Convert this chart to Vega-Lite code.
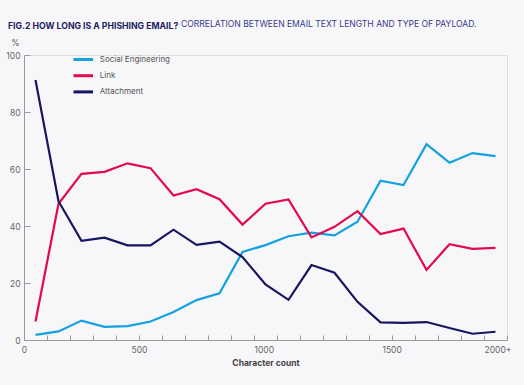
{
  "$schema": "https://vega.github.io/schema/vega-lite/v6.json",
  "width": 483,
  "height": 285,
  "autosize": {"type": "none"},
  "padding": {"left": 24, "top": 55, "right": 17, "bottom": 45},
  "background": "#f7f7f9",
  "title": {
    "text": "FIG.2 HOW LONG IS A PHISHING EMAIL?",
    "subtitle": "\u200b\u00a0\u00a0\u00a0\u00a0\u00a0\u00a0\u00a0\u00a0\u00a0\u00a0\u00a0\u00a0\u00a0\u00a0\u00a0\u00a0\u00a0\u00a0\u00a0\u00a0\u00a0\u00a0\u00a0\u00a0\u00a0\u00a0\u00a0\u00a0\u00a0\u00a0\u00a0\u00a0\u00a0\u00a0\u00a0\u00a0\u00a0\u00a0\u00a0\u00a0\u00a0\u00a0\u00a0\u00a0\u00a0\u00a0\u00a0\u00a0\u00a0\u00a0\u00a0\u00a0\u00a0\u00a0\u00a0\u00a0\u00a0\u00a0\u00a0\u00a0\u00a0\u00a0\u00a0\u00a0\u00a0\u00a0\u00a0\u00a0\u00a0\u00a0\u00a0\u00a0CORRELATION BETWEEN EMAIL TEXT LENGTH AND TYPE OF PAYLOAD.",
    "anchor": "start",
    "frame": "group",
    "dx": -16,
    "offset": 6,
    "font": "Inter",
    "fontSize": 8.7,
    "fontWeight": "bold",
    "color": "#1d1b63",
    "subtitleFont": "Inter",
    "subtitleFontSize": 8.55,
    "subtitleFontWeight": "normal",
    "subtitleColor": "#38378a",
    "subtitlePadding": -10.5
  },
  "data": {
    "values": [
      {"chars": 50, "type": "Social Engineering", "pct": 1.8},
      {"chars": 150, "type": "Social Engineering", "pct": 3.0},
      {"chars": 250, "type": "Social Engineering", "pct": 6.8},
      {"chars": 350, "type": "Social Engineering", "pct": 4.6},
      {"chars": 450, "type": "Social Engineering", "pct": 4.9},
      {"chars": 550, "type": "Social Engineering", "pct": 6.5},
      {"chars": 650, "type": "Social Engineering", "pct": 9.8},
      {"chars": 750, "type": "Social Engineering", "pct": 14.0},
      {"chars": 850, "type": "Social Engineering", "pct": 16.4},
      {"chars": 950, "type": "Social Engineering", "pct": 30.9},
      {"chars": 1050, "type": "Social Engineering", "pct": 33.3},
      {"chars": 1150, "type": "Social Engineering", "pct": 36.4},
      {"chars": 1250, "type": "Social Engineering", "pct": 37.7},
      {"chars": 1350, "type": "Social Engineering", "pct": 36.7},
      {"chars": 1450, "type": "Social Engineering", "pct": 41.5},
      {"chars": 1550, "type": "Social Engineering", "pct": 55.9},
      {"chars": 1650, "type": "Social Engineering", "pct": 54.4},
      {"chars": 1750, "type": "Social Engineering", "pct": 68.7},
      {"chars": 1850, "type": "Social Engineering", "pct": 62.2},
      {"chars": 1950, "type": "Social Engineering", "pct": 65.6},
      {"chars": 2050, "type": "Social Engineering", "pct": 64.5},
      {"chars": 50, "type": "Link", "pct": 6.5},
      {"chars": 150, "type": "Link", "pct": 47.8},
      {"chars": 250, "type": "Link", "pct": 58.3},
      {"chars": 350, "type": "Link", "pct": 59.0},
      {"chars": 450, "type": "Link", "pct": 62.0},
      {"chars": 550, "type": "Link", "pct": 60.3},
      {"chars": 650, "type": "Link", "pct": 50.7},
      {"chars": 750, "type": "Link", "pct": 52.9},
      {"chars": 850, "type": "Link", "pct": 49.4},
      {"chars": 950, "type": "Link", "pct": 40.5},
      {"chars": 1050, "type": "Link", "pct": 47.8},
      {"chars": 1150, "type": "Link", "pct": 49.3},
      {"chars": 1250, "type": "Link", "pct": 36.0},
      {"chars": 1350, "type": "Link", "pct": 39.7},
      {"chars": 1450, "type": "Link", "pct": 45.2},
      {"chars": 1550, "type": "Link", "pct": 37.2},
      {"chars": 1650, "type": "Link", "pct": 39.1},
      {"chars": 1750, "type": "Link", "pct": 24.6},
      {"chars": 1850, "type": "Link", "pct": 33.6},
      {"chars": 1950, "type": "Link", "pct": 32.0},
      {"chars": 2050, "type": "Link", "pct": 32.3},
      {"chars": 50, "type": "Attachment", "pct": 91.2},
      {"chars": 150, "type": "Attachment", "pct": 48.7},
      {"chars": 250, "type": "Attachment", "pct": 34.8},
      {"chars": 350, "type": "Attachment", "pct": 35.9},
      {"chars": 450, "type": "Attachment", "pct": 33.2},
      {"chars": 550, "type": "Attachment", "pct": 33.2},
      {"chars": 650, "type": "Attachment", "pct": 38.7},
      {"chars": 750, "type": "Attachment", "pct": 33.4},
      {"chars": 850, "type": "Attachment", "pct": 34.5},
      {"chars": 950, "type": "Attachment", "pct": 29.1},
      {"chars": 1050, "type": "Attachment", "pct": 19.5},
      {"chars": 1150, "type": "Attachment", "pct": 14.1},
      {"chars": 1250, "type": "Attachment", "pct": 26.3},
      {"chars": 1350, "type": "Attachment", "pct": 23.6},
      {"chars": 1450, "type": "Attachment", "pct": 13.4},
      {"chars": 1550, "type": "Attachment", "pct": 6.2},
      {"chars": 1650, "type": "Attachment", "pct": 6.0},
      {"chars": 1750, "type": "Attachment", "pct": 6.3},
      {"chars": 1850, "type": "Attachment", "pct": 4.2},
      {"chars": 1950, "type": "Attachment", "pct": 2.2},
      {"chars": 2050, "type": "Attachment", "pct": 2.9}
    ]
  },
  "mark": {"type": "line", "strokeWidth": 2.2, "strokeJoin": "miter"},
  "encoding": {
    "x": {
      "field": "chars",
      "type": "quantitative",
      "scale": {"domain": [0, 2100], "nice": false, "zero": false},
      "axis": {
        "title": "Character count",
        "titleFont": "Inter",
        "titleFontSize": 8.5,
        "titleFontWeight": "bold",
        "titleColor": "#444444",
        "titlePadding": 5,
        "values": [0, 100, 200, 300, 400, 500, 600, 700, 800, 900, 1000, 1100, 1200, 1300, 1400, 1500, 1600, 1700, 1800, 1900, 2000, 2100],
        "format": "d",
        "labelExpr": "datum.value == 2000 ? '2000+' : (datum.value % 500 == 0 ? datum.label : '')",
        "labelAlign": {"condition": {"test": "datum.value >= 1000", "value": "left"}, "value": "center"},
        "labelOffset": {"condition": {"test": "datum.value == 1500", "value": 13}, "value": 0},
        "labelFont": "Inter",
        "labelFontSize": 8.5,
        "labelColor": "#666666",
        "labelPadding": 10,
        "labelFlush": false,
        "labelOverlap": false,
        "ticks": true,
        "tickSize": -5,
        "tickWidth": 1,
        "tickColor": "#999999",
        "domain": true,
        "domainColor": "#999999",
        "domainWidth": 1,
        "grid": false
      }
    },
    "y": {
      "field": "pct",
      "type": "quantitative",
      "scale": {"domain": [0, 100], "nice": false},
      "axis": {
        "title": "%",
        "titleAngle": 0,
        "titleX": -9,
        "titleY": -10,
        "titleAlign": "center",
        "titleBaseline": "alphabetic",
        "titleFont": "Inter",
        "titleFontSize": 8.5,
        "titleFontWeight": "normal",
        "titleColor": "#555555",
        "values": [0, 20, 40, 60, 80, 100],
        "labelFont": "Inter",
        "labelFontSize": 8.5,
        "labelColor": "#666666",
        "labelPadding": 10,
        "ticks": true,
        "tickSize": -6,
        "tickColor": "#999999",
        "domain": true,
        "domainColor": "#999999",
        "grid": false
      }
    },
    "color": {
      "field": "type",
      "type": "nominal",
      "scale": {
        "domain": ["Social Engineering", "Link", "Attachment"],
        "range": ["#14a1e1", "#e4084f", "#17155f"]
      },
      "legend": {
        "title": null,
        "orient": "none",
        "legendX": 50.25,
        "legendY": -4.5,
        "symbolType": "M-1.3,0H1.3",
        "symbolSize": 225,
        "symbolStrokeWidth": 3,
        "labelFont": "Inter",
        "labelFontSize": 8,
        "labelColor": "#555555",
        "labelOffset": 7.5,
        "rowPadding": 1.2
      }
    }
  }
}
